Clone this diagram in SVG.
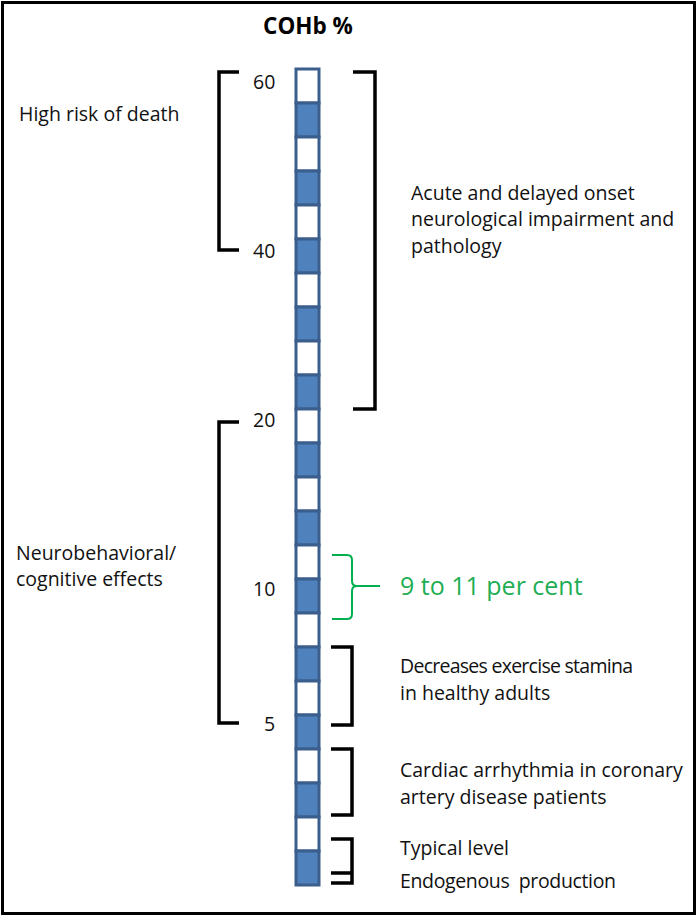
<svg xmlns="http://www.w3.org/2000/svg" width="698" height="918" viewBox="0 0 698 918">
<style>
.t{font-family:"Open Sans","Liberation Sans",sans-serif;font-size:19.5px;fill:#111}
.n{font-family:"Open Sans","Liberation Sans",sans-serif;font-size:19.5px;fill:#111}
.br{fill:none;stroke:#000;stroke-width:3.5;stroke-linejoin:miter}
.w{fill:#fff;stroke:#3b5e8c;stroke-width:3}
.b{fill:#4f81bd;stroke:#3b5e8c;stroke-width:3}
</style>
<rect x="0" y="0" width="698" height="918" fill="#fff"/>
<rect x="2.5" y="2.5" width="692" height="911" fill="none" stroke="#000" stroke-width="3"/>
<g id="title"><text x="308" y="34" text-anchor="middle" style="font-family:'Open Sans','Liberation Sans',sans-serif;font-size:22.5px;font-weight:bold;fill:#000">COHb %</text></g>
<g id="scale">
<rect class="w" x="296" y="69" width="23" height="34"/>
<rect class="b" x="296" y="103" width="23" height="34"/>
<rect class="w" x="296" y="137" width="23" height="34"/>
<rect class="b" x="296" y="171" width="23" height="34"/>
<rect class="w" x="296" y="205" width="23" height="34"/>
<rect class="b" x="296" y="239" width="23" height="34"/>
<rect class="w" x="296" y="273" width="23" height="34"/>
<rect class="b" x="296" y="307" width="23" height="34"/>
<rect class="w" x="296" y="341" width="23" height="34"/>
<rect class="b" x="296" y="375" width="23" height="34"/>
<rect class="w" x="296" y="409" width="23" height="34"/>
<rect class="b" x="296" y="443" width="23" height="34"/>
<rect class="w" x="296" y="477" width="23" height="34"/>
<rect class="b" x="296" y="511" width="23" height="34"/>
<rect class="w" x="296" y="545" width="23" height="34"/>
<rect class="b" x="296" y="579" width="23" height="34"/>
<rect class="w" x="296" y="613" width="23" height="34"/>
<rect class="b" x="296" y="647" width="23" height="34"/>
<rect class="w" x="296" y="681" width="23" height="34"/>
<rect class="b" x="296" y="715" width="23" height="34"/>
<rect class="w" x="296" y="749" width="23" height="34"/>
<rect class="b" x="296" y="783" width="23" height="34"/>
<rect class="w" x="296" y="817" width="23" height="34"/>
<rect class="b" x="296" y="851" width="23" height="34"/>
</g>
<g id="ticks">
<text class="n" x="253" y="89">60</text>
<text class="n" x="253" y="258">40</text>
<text class="n" x="253" y="427">20</text>
<text class="n" x="253" y="596">10</text>
<text class="n" x="264" y="731">5</text>
</g>
<g id="connectors">
<path class="br" d="M239,72 H219 V250 H239"/>
<path class="br" d="M353,72 H375 V409 H353"/>
<path class="br" d="M239,422 H219 V723 H239"/>
<path class="br" d="M331,647 H352 V725 H331"/>
<path class="br" d="M331,749 H352 V815 H331"/>
<path class="br" d="M331,839 H352 V883 H331 M331,873 H352"/>
<path d="M332,555 H347 Q352,555 352,560 V581 Q352,586 357,586 H380 M357,586 Q352,586 352,591 V614 Q352,619 347,619 H332" fill="none" stroke="#00b050" stroke-width="2"/>
</g>
<g id="high-risk"><text class="t" x="19" y="121">High risk of death</text></g>
<g id="acute"><text class="t" x="411" y="200">Acute and delayed onset</text><text class="t" x="411" y="226">neurological impairment and</text><text class="t" x="411" y="253">pathology</text></g>
<g id="neuro"><text class="t" x="16" y="560">Neurobehavioral/</text><text class="t" x="16" y="586">cognitive effects</text></g>
<g id="range"><text x="400" y="595" style="font-family:'Open Sans','Liberation Sans',sans-serif;font-size:25px;fill:#1fae55">9 to 11 per cent</text></g>
<g id="stamina"><text class="t" x="400" y="673" textLength="233" lengthAdjust="spacing">Decreases exercise stamina</text><text class="t" x="400" y="700">in healthy adults</text></g>
<g id="cardiac"><text class="t" x="400" y="777">Cardiac arrhythmia in coronary</text><text class="t" x="400" y="804">artery disease patients</text></g>
<g id="typical"><text class="t" x="400" y="855">Typical level</text></g>
<g id="endogenous"><text class="t" x="400" y="888" style="white-space:pre" textLength="216" lengthAdjust="spacing">Endogenous  production</text></g>
</svg>
